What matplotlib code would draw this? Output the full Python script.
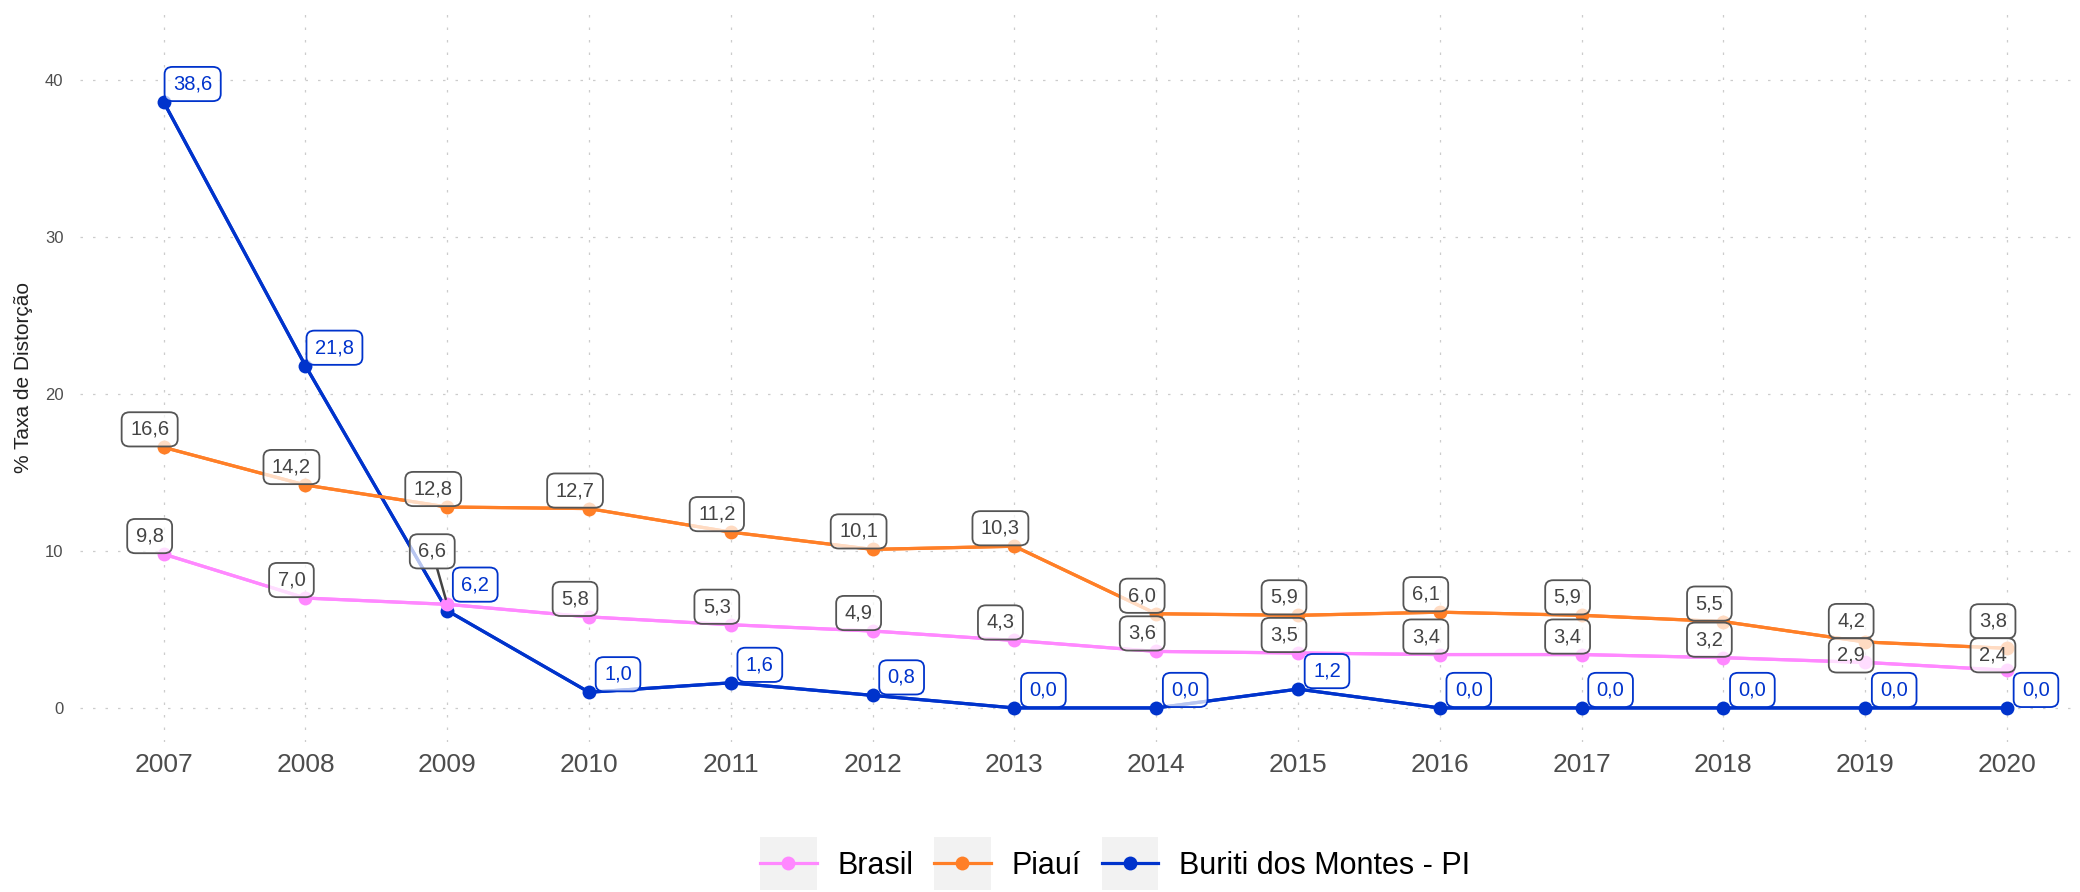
import matplotlib
matplotlib.use("Agg")
import matplotlib.pyplot as plt
from matplotlib.legend_handler import HandlerLine2D
from matplotlib.patches import Rectangle

plt.rcParams['font.family'] = ['Liberation Sans', 'DejaVu Sans']

anos = [2007, 2008, 2009, 2010, 2011, 2012, 2013, 2014, 2015, 2016, 2017, 2018, 2019, 2020]
brasil = [9.8, 7.0, 6.6, 5.8, 5.3, 4.9, 4.3, 3.6, 3.5, 3.4, 3.4, 3.2, 2.9, 2.4]
piaui = [16.6, 14.2, 12.8, 12.7, 11.2, 10.1, 10.3, 6.0, 5.9, 6.1, 5.9, 5.5, 4.2, 3.8]
buriti = [38.6, 21.8, 6.2, 1.0, 1.6, 0.8, 0.0, 0.0, 1.2, 0.0, 0.0, 0.0, 0.0, 0.0]

series = [
    ("Buriti dos Montes - PI", buriti, "#0033cc"),
    ("Piauí", piaui, "#ff7f27"),
    ("Brasil", brasil, "#ff88ff"),
]

# deslocamento dos rótulos (pixels, x para direita, y para cima)
desloc_cinza = (-14, 18)
desloc_azul = (29, 18)
ajustes = {
    ("Brasil", 2009): (-15, 53),
    ("Buriti dos Montes - PI", 2009): (28, 26),
    ("Piauí", 2019): (-14, 21),
    ("Brasil", 2019): (-14, 7),
    ("Piauí", 2020): (-14, 27),
    ("Brasil", 2020): (-14, 15),
}


class ChaveLegenda(HandlerLine2D):
    # fundo cinza claro atrás de cada chave, como no ggplot
    def create_artists(self, legend, orig_handle, xdescent, ydescent,
                       width, height, fontsize, trans):
        h = 1.75 * fontsize
        fundo = Rectangle((-xdescent, -ydescent + height / 2 - h / 2), width, h,
                          facecolor="#f2f2f2", edgecolor="none", transform=trans)
        arts = super().create_artists(legend, orig_handle, xdescent, ydescent,
                                      width, height, fontsize, trans)
        return [fundo] + arts


fig = plt.figure(figsize=(20.8, 8.92), dpi=100)
ax = fig.add_axes([80 / 2080, 150 / 892, 2000 / 2080, (742 - 13) / 892])

for nome, vals, cor in series:
    ax.plot(anos, vals, color=cor, lw=2.3, zorder=2, solid_capstyle='round')
handles = {}
for nome, vals, cor in series:
    handles[nome] = ax.plot(anos, vals, color=cor, lw=2.3, marker='o', ms=10,
                            markeredgewidth=0, zorder=3)[0]

for nome, vals, cor in series:
    azul = nome.startswith("Buriti")
    for ano, v in zip(anos, vals):
        dx, dy = ajustes.get((nome, ano), desloc_azul if azul else desloc_cinza)
        txt = f"{v:.1f}".replace('.', ',')
        borda = cor if azul else "#555555"
        ap = None
        if (nome, ano) == ("Brasil", 2009):
            ap = dict(arrowstyle='-', color='#444444', lw=1.8, shrinkA=0, shrinkB=4)
        ax.annotate(txt, (ano, v), xytext=(dx, dy), textcoords='offset pixels',
                    ha='center', va='center', fontsize=14.5,
                    color=cor if azul else "#444444", zorder=5,
                    bbox=dict(boxstyle='round,pad=0.42,rounding_size=0.4',
                              mutation_aspect=0.9,
                              fc=(1, 1, 1, 0.72), ec=borda, lw=1.3),
                    arrowprops=ap)

ax.set_xlim(2007 - 0.59, 2020 + 0.515)
ax.set_ylim(-2.17, 44.27)
ax.set_xticks(anos)
ax.set_yticks([0, 10, 20, 30, 40])
ax.grid(True, color="#cccccc", lw=0.9, ls=(0, (2, 8)))
ax.set_axisbelow(True)
for s in ax.spines.values():
    s.set_visible(False)
ax.tick_params(axis='x', length=0, pad=8, labelsize=19, labelcolor="#4d4d4d")
ax.tick_params(axis='y', length=0, pad=12, labelsize=12, labelcolor="#4d4d4d")

fig.text(24 / 2080, 1 - 377.5 / 892, "% Taxa de Distorção", rotation=90,
         ha='center', va='center', fontsize=15, color="#222222")

ordem = ["Brasil", "Piauí", "Buriti dos Montes - PI"]
leg = fig.legend([handles[n] for n in ordem], ordem, loc='center',
                 bbox_to_anchor=(1115 / 2080, 1 - 866 / 892), ncol=3, frameon=False,
                 fontsize=22, handlelength=1.85, handletextpad=0.68,
                 columnspacing=0.68, borderpad=0,
                 handler_map={matplotlib.lines.Line2D: ChaveLegenda(marker_pad=0.2)})

fig.savefig("out.png", dpi=100, facecolor="white")
